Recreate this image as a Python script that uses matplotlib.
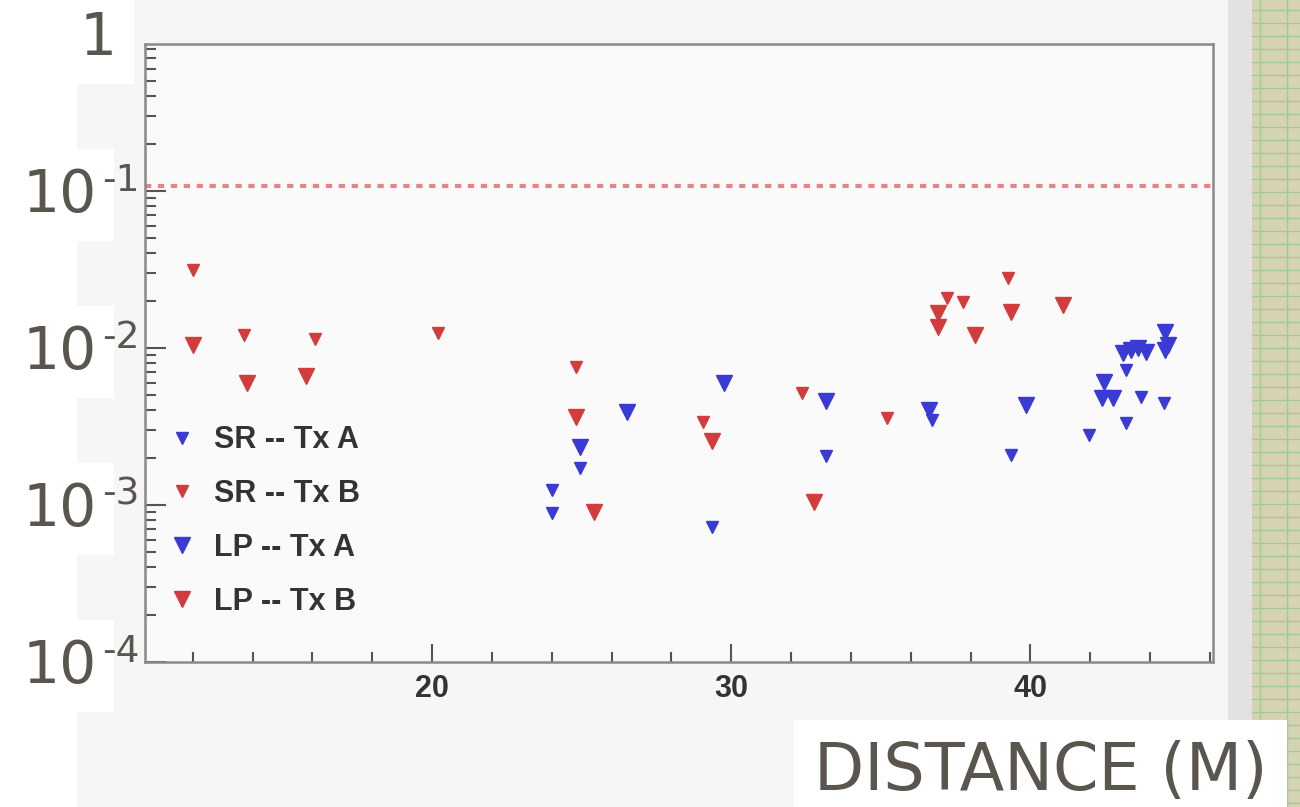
import matplotlib
matplotlib.use('Agg')
import matplotlib.pyplot as plt
import matplotlib.transforms as mtransforms
from matplotlib.ticker import MultipleLocator, LogLocator, NullFormatter
from matplotlib.patches import Rectangle

# distance (m) and value for each series
sr_a_x = [24.0, 24.0, 24.95, 29.35, 33.15, 36.7, 39.35, 41.95, 43.2, 43.2, 43.7, 44.45]
sr_a_y = [0.00125, 0.00089, 0.00172, 0.00072, 0.00205, 0.00347, 0.00208, 0.00279, 0.00333, 0.00725, 0.00488, 0.00447]

sr_b_x = [12.0, 13.7, 16.1, 20.2, 24.8, 29.05, 32.35, 35.2, 37.2, 37.75, 39.25]
sr_b_y = [0.0314, 0.0121, 0.0114, 0.0125, 0.0076, 0.0034, 0.0052, 0.0036, 0.0208, 0.0196, 0.0279]

lp_a_x = [24.95, 26.5, 29.75, 33.15, 36.6, 39.85, 42.45, 42.4, 42.75, 43.1, 43.35, 43.6, 43.85, 44.5, 44.6, 44.5]
lp_a_y = [0.00234, 0.00391, 0.00598, 0.00459, 0.00403, 0.00434, 0.00607, 0.00481, 0.00481,
          0.00929, 0.00971, 0.0100, 0.00944, 0.0126, 0.0104, 0.00971]

lp_b_x = [12.0, 13.8, 15.8, 24.8, 25.4, 29.35, 32.75, 36.9, 36.9, 38.15, 39.35, 41.1]
lp_b_y = [0.0104, 0.0060, 0.0066, 0.00364, 0.00090, 0.00256, 0.00104, 0.0167, 0.0136, 0.0121, 0.0169, 0.0188]

labels = ['SR -- Tx A', 'SR -- Tx B', 'LP -- Tx A', 'LP -- Tx B']
threshold = 0.1
x_ticks = [20, 30, 40]
y_label_vals = [1, 1e-1, 1e-2, 1e-3, 1e-4]
y_label_exp = ['', '-1', '-2', '-3', '-4']

blue = '#3a3ad4'
red = '#d23c3c'
grey_txt = '#5a554f'

fig = plt.figure(figsize=(13, 8.07), dpi=100, facecolor='white')
# ROOT canvas behind the frame
fig.patches.append(Rectangle((77 / 1300, 0), (1228 - 77) / 1300, 1, transform=fig.transFigure,
                             facecolor='#f6f6f6', edgecolor='none', zorder=-2))
ax = fig.add_axes([0.1115, 0.1797, 0.8215, 0.7658])
ax.set_facecolor('#fafafa')

ax.plot(sr_a_x, sr_a_y, 'v', color=blue, ms=8, ls='none', label=labels[0])
ax.plot(sr_b_x, sr_b_y, 'v', color=red, ms=8, ls='none', label=labels[1])
ax.plot(lp_a_x, lp_a_y, 'v', color=blue, ms=12, ls='none', label=labels[2])
ax.plot(lp_b_x, lp_b_y, 'v', color=red, ms=12, ls='none', label=labels[3])

ax.axhline(threshold * 1.07, color='#e58686', lw=3, linestyle=(0, (1.5, 1.6)))

ax.set_yscale('log')
ax.set_ylim(1e-4, 0.863)
ax.set_xlim(10.4, 46.1)

ax.xaxis.set_minor_locator(MultipleLocator(2))
ax.set_xticks(x_ticks)
ax.yaxis.set_major_locator(LogLocator(base=10))
ax.yaxis.set_minor_locator(LogLocator(base=10, subs=range(2, 10), numticks=20))
ax.yaxis.set_major_formatter(NullFormatter())
ax.yaxis.set_minor_formatter(NullFormatter())

ax.tick_params(which='both', direction='in', color='#555555', width=1.5)
ax.tick_params(axis='x', which='major', length=13, pad=9, labelsize=22, labelcolor='#333333')
ax.tick_params(axis='x', which='minor', length=7)
ax.tick_params(axis='y', which='major', length=15)
ax.tick_params(axis='y', which='minor', length=8)
for t in ax.get_xticklabels():
    t.set_fontweight('bold')
    t.set_family('Liberation Sans')
for s in ax.spines.values():
    s.set_color('#8a8a8a')
    s.set_linewidth(1.8)

# big overlaid y labels: "10" plus a raised exponent
base_tr = ax.get_yaxis_transform()
for v, e in zip(y_label_vals, y_label_exp):
    if e == '':
        tr = mtransforms.offset_copy(base_tr, fig=fig, x=-28, y=-21, units='dots')
        ax.text(0, v, '1', transform=tr, ha='right', va='baseline', fontsize=42,
                color=grey_txt, family='DejaVu Sans', clip_on=False,
                bbox=dict(facecolor='white', edgecolor='none', boxstyle='square,pad=0.3'))
        continue
    tr = mtransforms.offset_copy(base_tr, fig=fig, x=-48, y=-21, units='dots')
    ax.text(0, v, '10', transform=tr, ha='right', va='baseline', fontsize=42,
            color=grey_txt, family='DejaVu Sans', clip_on=False,
            bbox=dict(facecolor='white', edgecolor='none', boxstyle='square,pad=0.3'))
    tr2 = mtransforms.offset_copy(base_tr, fig=fig, x=-5, y=0, units='dots')
    ax.text(0, v, e, transform=tr2, ha='right', va='baseline', fontsize=27,
            color=grey_txt, family='DejaVu Sans', clip_on=False)

leg = ax.legend(loc='center left', bbox_to_anchor=(0.0, 0.228), frameon=False,
                prop={'family': 'Liberation Sans', 'weight': 'bold', 'size': 22},
                labelspacing=0.78, handletextpad=0.55, handlelength=1.0, borderaxespad=0.3)
for t in leg.get_texts():
    t.set_color('#333333')

ax.set_xlabel('DISTANCE (M)', fontsize=47, color=grey_txt, family='DejaVu Sans', ha='right',
              bbox=dict(facecolor='white', edgecolor='none', boxstyle='square,pad=0.3'))
ax.xaxis.set_label_coords(1.051, -0.178)
ax.xaxis.label.set_va('center')

# grid paper strip at the right edge
fig.patches.append(Rectangle((1228 / 1300, 0), 24 / 1300, 1, transform=fig.transFigure,
                             facecolor='#e2e2e2', edgecolor='none', zorder=-1))
pax = fig.add_axes([1252 / 1300, 0, 48 / 1300, 1], zorder=-1)
pax.set_facecolor('#d6d3b2')
pax.set_xlim(0, 48)
pax.set_ylim(0, 807)
for yy in range(4, 807, 13):
    pax.axhline(yy, color='#a2c89c', lw=1.0)
for xx in [8, 35]:
    pax.axvline(xx, color='#a2c89c', lw=1.0)
pax.set_xticks([])
pax.set_yticks([])
for s in pax.spines.values():
    s.set_visible(False)

fig.savefig('out.png', dpi=100, facecolor=fig.get_facecolor())
